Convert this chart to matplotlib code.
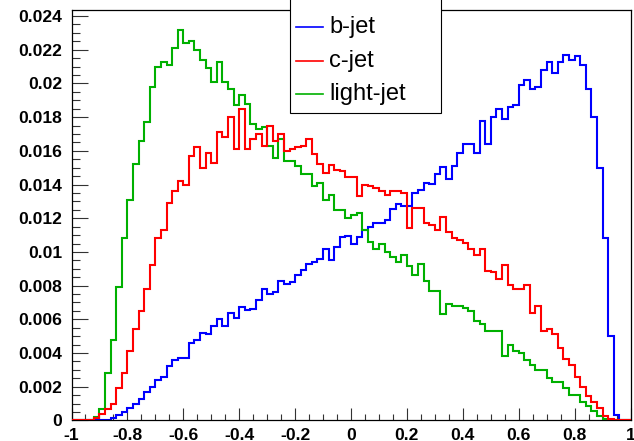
import numpy as np
import matplotlib.pyplot as plt
from matplotlib.ticker import MultipleLocator, FuncFormatter

# normalised discriminant distributions, 100 bins on [-1, 1], values in units of 1e-3
edges = np.linspace(-1, 1, 101)

b_jet = np.array([
    0, 0, 0, 0, 0, 0.02, 0.05, 0.15, 0.3, 0.5,
    0.75, 1.0, 1.25, 1.7, 2.0, 2.4, 2.6, 3.2, 3.6, 3.7,
    3.7, 4.6, 4.8, 5.2, 5.1, 5.6, 6.0, 5.6, 6.4, 6.1,
    6.75, 6.55, 6.6, 7.15, 7.8, 7.5, 7.6, 8.3, 8.1, 8.2,
    8.65, 8.9, 9.3, 9.4, 9.6, 10.15, 9.5, 10.3, 10.9, 10.95,
    10.5, 10.9, 11.3, 11.5, 11.7, 11.7, 11.9, 12.55, 12.85, 12.75,
    12.7, 13.5, 13.7, 14.1, 14.06, 14.65, 15.05, 14.3, 15.1, 15.9,
    16.4, 16.4, 15.9, 17.8, 16.4, 18.0, 18.5, 17.9, 18.6, 18.75,
    19.9, 20.2, 19.7, 19.8, 20.8, 21.3, 20.6, 21.3, 21.7, 21.4,
    21.6, 21.1, 19.7, 18.0, 15.0, 10.8, 5.0, 0.35, 0, 0,
]) * 1e-3

c_jet = np.array([
    0, 0, 0, 0, 0.15, 0.4, 0.7, 1.0, 1.9, 2.8,
    4.1, 5.4, 6.5, 7.8, 9.2, 10.8, 11.3, 12.9, 13.6, 14.2,
    14.0, 15.7, 16.2, 15.0, 15.9, 15.3, 17.1, 16.8, 18.0, 16.1,
    18.5, 16.1, 16.7, 17.0, 16.3, 17.5, 16.6, 17.0, 16.0, 16.1,
    16.2, 16.3, 16.7, 15.8, 15.2, 14.7, 15.15, 14.85, 14.8, 14.45,
    14.45, 13.3, 14.0, 13.9, 13.8, 13.6, 13.4, 13.6, 13.6, 13.5,
    11.4, 12.6, 12.6, 11.7, 11.6, 11.3, 12.1, 11.2, 10.8, 10.7,
    10.55, 10.2, 9.8, 10.2, 8.85, 8.8, 8.4, 9.2, 8.06, 7.8,
    7.8, 8.06, 6.4, 6.8, 5.3, 5.4, 5.1, 4.3, 3.65, 3.3,
    2.6, 2.0, 1.45, 1.1, 0.73, 0.24, 0.08, 0, 0, 0,
]) * 1e-3

light_jet = np.array([
    0, 0, 0, 0, 0.2, 0.7, 2.8, 4.8, 7.9, 10.8,
    13.1, 15.2, 16.6, 17.7, 19.8, 21.0, 21.3, 21.1, 22.1, 23.2,
    22.4, 22.5, 22.0, 21.4, 20.9, 20.1, 21.3, 20.1, 19.7, 18.7,
    19.3, 18.8, 17.6, 17.3, 17.4, 16.3, 15.6, 16.7, 15.4, 15.4,
    15.1, 14.6, 14.6, 13.9, 14.1, 13.1, 13.4, 12.5, 12.5, 12.0,
    12.2, 12.3, 11.3, 10.6, 10.2, 10.5, 10.0, 9.7, 9.4, 9.8,
    9.15, 8.65, 9.3, 8.25, 7.7, 7.7, 6.3, 6.9, 6.8, 6.8,
    6.7, 6.5, 5.9, 5.7, 5.3, 5.3, 5.3, 3.8, 4.5, 4.1,
    4.0, 3.6, 3.3, 3.0, 3.0, 2.5, 2.3, 2.25, 1.9, 1.5,
    1.5, 1.1, 0.83, 0.53, 0.28, 0.08, 0, 0, 0, 0,
]) * 1e-3

labels = ["b-jet", "c-jet", "light-jet"]
colors = ["#0000ff", "#ff0000", "#00b000"]

fig = plt.figure(figsize=(6.34, 4.41), dpi=100)
ax = fig.add_axes([71.5 / 634, 20.6 / 441, 559 / 634, 410.4 / 441])

for vals, col, z in [(b_jet, colors[0], 2),
                     (light_jet, colors[2], 3),
                     (c_jet, colors[1], 4)]:
    ax.stairs(vals, edges, color=col, lw=1.5, zorder=z)

ymax = 1.05 * max(b_jet.max(), c_jet.max(), light_jet.max())
ax.set_xlim(-1, 1)
ax.set_ylim(0, ymax)

ax.xaxis.set_major_locator(MultipleLocator(0.2))
ax.xaxis.set_minor_locator(MultipleLocator(0.05))
ax.yaxis.set_major_locator(MultipleLocator(0.002))
ax.yaxis.set_minor_locator(MultipleLocator(0.0005))


def fmt(v, pos):
    s = f"{v:.3f}".rstrip("0").rstrip(".")
    return "0" if s in ("-0", "") else s


ax.xaxis.set_major_formatter(FuncFormatter(fmt))
ax.yaxis.set_major_formatter(FuncFormatter(fmt))

ax.tick_params(axis="both", which="both", direction="in", top=False, right=False,
               width=0.8, color="#333333")
ax.tick_params(axis="y", which="major", length=11.5, pad=6.5)
ax.tick_params(axis="y", which="minor", length=5.8)
ax.tick_params(axis="x", which="major", length=8.6, pad=5.5)
ax.tick_params(axis="x", which="minor", length=4.3)
for lab in ax.get_xticklabels() + ax.get_yticklabels():
    lab.set_fontfamily("Liberation Sans")
    lab.set_fontweight("bold")
    lab.set_fontsize(12.6)

for sp in ax.spines.values():
    sp.set_linewidth(0.9)

# legend box in figure pixels
lx0, lx1, ly0, ly1 = 290, 441, 441 - 112.7, 441 + 2
box = plt.Rectangle((lx0 / 634, ly0 / 441), (lx1 - lx0) / 634, (ly1 - ly0) / 441,
                    transform=fig.transFigure, facecolor="white", edgecolor="black",
                    lw=0.8, zorder=10)
fig.patches.append(box)
rows_y = [27, 61, 94]
for name, col, yy in zip(labels, colors, rows_y):
    yf = (441 - yy) / 441
    fig.add_artist(plt.Line2D([296 / 634, 323 / 634], [yf, yf], transform=fig.transFigure,
                              color=col, lw=1.2, zorder=11))
    fig.text(329 / 634, yf, name, fontsize=17, fontfamily="Liberation Sans",
             va="center", ha="left", zorder=12)

fig.savefig("out.png", dpi=100)
